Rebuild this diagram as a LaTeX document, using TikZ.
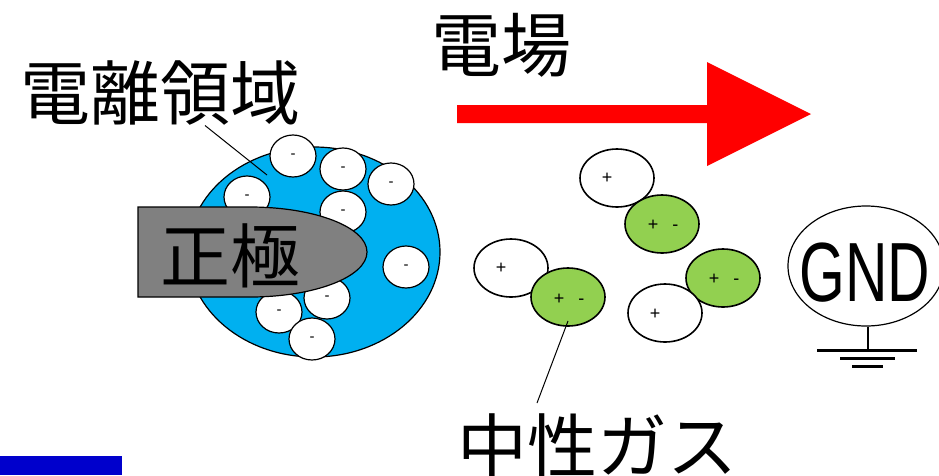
\documentclass[tikz,border=0pt]{standalone}
\usepackage{fontspec}
\setmainfont{Liberation Sans}
\newfontfamily\jp{Noto Sans CJK JP}
\usetikzlibrary{shapes.geometric}
\definecolor{plasma}{HTML}{00B0F0}
\definecolor{molgreen}{HTML}{92D050}
\definecolor{barblue}{HTML}{0000CC}
\tikzset{
  bigtext/.style={font=\jp\fontsize{70}{70}\selectfont, inner sep=0pt},
  electron/.style={draw=black, fill=white, ellipse, line width=1.2pt,
    minimum width=46pt, minimum height=42pt, inner sep=0pt, outer sep=0pt,
    font=\fontsize{15}{15}\selectfont},
  ion/.style={draw=black, fill=white, ellipse, line width=1.6pt,
    minimum width=74pt, minimum height=58pt, inner sep=0pt, outer sep=0pt},
  neutral/.style={ion, fill=molgreen},
  charge/.style={inner sep=0pt, font=\fontsize{18}{18}\selectfont},
  leader/.style={draw=black, line width=1pt},
  earth/.style={draw=black, line width=3pt}
}
\begin{document}
\begin{tikzpicture}[x=1pt, y=-1pt]
\useasboundingbox (0,0) rectangle (939,475);

% ionisation region
\node[draw=black, fill=plasma, ellipse, line width=1.2pt,
      minimum width=252pt, minimum height=210pt] (region) at (314,252) {};

% electrons
\node[electron] (e1) at (293,156) {-};
\node[electron] (e2) at (343,169) {-};
\node[electron] (e3) at (391,184) {-};
\node[electron] (e4) at (247,197) {-};
\node[electron] (e5) at (343,212) {-};
\node[electron] (e6) at (406,267) {-};
\node[electron] (e7) at (327,298) {-};
\node[electron] (e8) at (279,312) {-};
\node[electron] (e9) at (312,339) {-};

% positive electrode
\draw[fill=gray, line width=1.2pt] (138,207) -- (250,207)
  arc[start angle=90, end angle=-90, x radius=117pt, y radius=45pt]
  -- (138,297) -- cycle;
\node[bigtext] (anode) at (230,256) {正極};

% region label
\node[bigtext] (regionlabel) at (160,93) {電離領域};
\coordinate (regionpt) at (267,175);
\draw[leader] (regionlabel.south) ++(45,0) coordinate (rl) (rl) -- (regionpt);

% electric field arrow
\node[bigtext] (fieldlabel) at (501,45) {電場};
\fill[red] (457,105) -- (707,105) -- (707,62) -- (811,114)
  -- (707,166) -- (707,123) -- (457,123) -- cycle;

% ions and neutral molecules
\node[ion] (i1) at (617,178) {};
\node[charge] (i1c) at (607,178) {+};
\node[neutral] (n1) at (662,224) {};
\node[charge] (n1c) at (663,225) {+\hspace{14pt}-};

\node[ion] (i2) at (511,268) {};
\node[charge] (i2c) at (501,268) {+};
\node[neutral] (n2) at (568,297) {};
\node[charge] (n2c) at (569,299) {+\hspace{14pt}-};

\node[neutral] (n3) at (723,278) {};
\node[charge] (n3c) at (724,279) {+\hspace{14pt}-};
\node[ion] (i3) at (665,313) {};
\node[charge] (i3c) at (655,314) {+};

% neutral gas label
\node[bigtext] (gaslabel) at (597,446) {中性ガス};
\coordinate (gaspt) at (568,321);
\coordinate (gasend) at (537,403);
\draw[leader] (gaspt) -- (gasend);

% ground electrode
\node[draw=black, ellipse, line width=1.2pt, minimum width=156pt,
      minimum height=120pt, inner sep=0pt] (gnd) at (866,266) {};
\node[inner sep=0pt, font=\fontsize{84}{84}\selectfont] (gndtext) at (865,273)
  {\scalebox{0.7}[1]{GND}};
\coordinate (g0) at (868,350);
\draw[line width=2pt] (gnd.south) ++(2,0) -- (g0);
\draw[earth] (817,350) -- (917,350);
\draw[earth] (840,358) -- (895,358);
\draw[earth] (852,366) -- (883,366);

% bar at lower left
\fill[barblue] (0,456) rectangle (122,475);
\end{tikzpicture}
\end{document}
